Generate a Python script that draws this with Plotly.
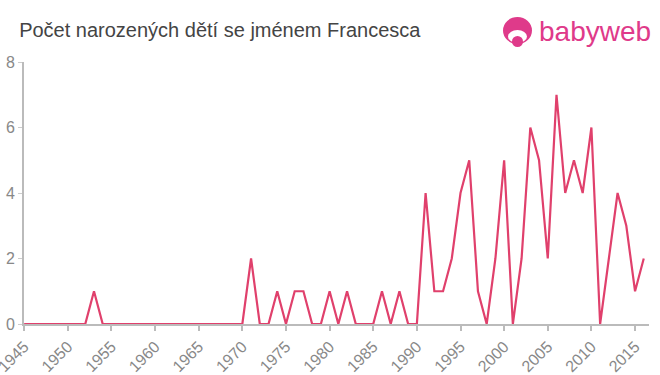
import plotly.graph_objects as go

years = list(range(1945, 2017))
counts = [0]*8 + [1] + [0]*17 + [2, 0, 0, 1, 0, 1, 1, 0, 0, 1, 0, 1, 0, 0, 0, 1, 0, 1, 0, 0,
          4, 1, 1, 2, 4, 5, 1, 0, 2, 5, 0, 2, 6, 5, 2, 7, 4, 5, 4, 6, 0, 2, 4, 3, 1, 2]
assert len(counts) == len(years)

x_ticks = list(range(1945, 2020, 5))
y_ticks = [0, 2, 4, 6, 8]

fig = go.Figure()
fig.add_trace(go.Scatter(x=years, y=counts, mode="lines",
                         line=dict(color="#e0406c", width=2.2), hoverinfo="x+y"))

fig.update_layout(
    width=660, height=375,
    margin=dict(l=24, r=11, t=62, b=51),
    paper_bgcolor="white", plot_bgcolor="white",
    showlegend=False,
    title=dict(text="Počet narozených dětí se jménem Francesca", x=0.029, xanchor="left",
               y=0.919, yanchor="middle",
               font=dict(family="Liberation Sans, Arial", size=20, color="#444")),
    font=dict(family="Liberation Sans, Arial", color="#888"),
)
fig.update_xaxes(range=[1944.98, 2016.6], tickvals=x_ticks, ticktext=[str(v) for v in x_ticks],
                 tickangle=-45, showgrid=False, showline=True, linecolor="#bbb", linewidth=2,
                 ticks="outside", tickcolor="#bbb", ticklen=5, tickwidth=2,
                 tickfont=dict(size=16, color="#888"), zeroline=False, fixedrange=True,
                 automargin=False, ticklabeloverflow="allow")
fig.update_yaxes(range=[0, 8], tickvals=y_ticks, showgrid=False, showline=True,
                 linecolor="#bbb", linewidth=2, ticks="outside", ticklen=4, tickcolor="#ccc",
                 tickwidth=1, tickfont=dict(size=16, color="#888"),
                 zeroline=False, fixedrange=True, automargin=False, ticklabeloverflow="allow")

# logo
def px(x):
    return (x - 24) / 625

def py(y):
    return (375 - 51 - y) / 262

fig.add_shape(type="circle", xref="paper", yref="paper",
              x0=px(503), x1=px(532), y0=py(44), y1=py(17),
              fillcolor="#df3a8a", line=dict(width=0))
fig.add_shape(type="circle", xref="paper", yref="paper",
              x0=px(508), x1=px(527), y0=py(43), y1=py(30),
              fillcolor="white", line=dict(width=0))
fig.add_shape(type="circle", xref="paper", yref="paper",
              x0=px(512), x1=px(523), y0=py(47), y1=py(36),
              fillcolor="#df3a8a", line=dict(width=0))
fig.add_annotation(text="babyweb", xref="paper", yref="paper",
                   x=px(537), y=py(32), xanchor="left", yanchor="middle",
                   showarrow=False, font=dict(family="Liberation Sans, Arial", size=28, color="#df3a8a"))

fig.write_html("out.html")
